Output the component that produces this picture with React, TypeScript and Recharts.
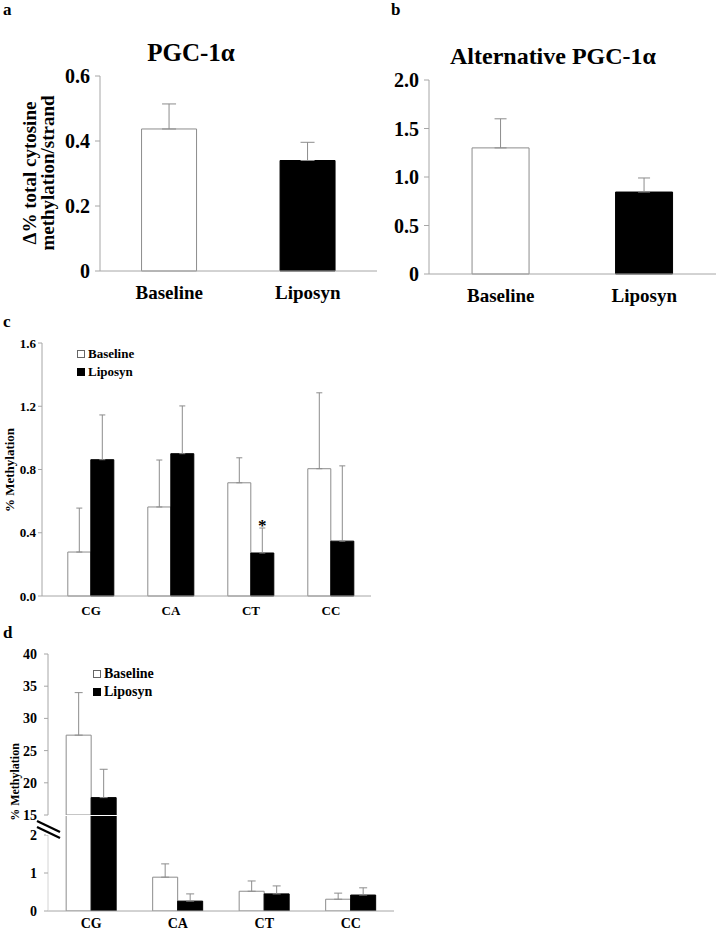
import { Bar, BarChart, Cell, ErrorBar, LabelList, Legend, XAxis, YAxis } from "recharts";

const SERIF = '"Liberation Serif", "Times New Roman", serif';
const AXIS = "#a6a6a6";
const EDGE = "#8c8c8c";

// panels a + b
const GROUPS = ["Baseline", "Liposyn"];
const PGC_MEAN = [0.437, 0.34];
const PGC_ERR = [0.077, 0.056];
const ALT_MEAN = [1.3, 0.845];
const ALT_ERR = [0.3, 0.145];
const PGC_TICKS = [0, 0.2, 0.4, 0.6];
const ALT_TICKS = [0, 0.5, 1.0, 1.5, 2.0];

// panel c
const CONTEXTS = ["CG", "CA", "CT", "CC"];
const C_BASE = [0.278, 0.563, 0.716, 0.805];
const C_BASE_ERR = [0.278, 0.297, 0.158, 0.48];
const C_LIPO = [0.862, 0.9, 0.272, 0.347];
const C_LIPO_ERR = [0.283, 0.302, 0.158, 0.476];
const C_SIG = ["", "", "*", ""];
const C_TICKS = [0, 0.4, 0.8, 1.2, 1.6];

// panel d (broken axis: 0-2 below, 15-40 above)
const D_BASE = [27.4, 0.89, 0.52, 0.31];
const D_BASE_ERR = [6.6, 0.35, 0.27, 0.16];
const D_LIPO = [17.7, 0.26, 0.45, 0.42];
const D_LIPO_ERR = [4.4, 0.19, 0.21, 0.19];
const D_HI_TICKS = [15, 20, 25, 30, 35, 40];
const D_LO_TICKS = [0, 1, 2];
const D_BREAK = 15;

const FILLS = ["#ffffff", "#000000"];

const pgcData = GROUPS.map((g, i) => ({ group: g, mean: PGC_MEAN[i], err: [0, PGC_ERR[i]] }));
const altData = GROUPS.map((g, i) => ({ group: g, mean: ALT_MEAN[i], err: [0, ALT_ERR[i]] }));
const cData = CONTEXTS.map((c, i) => ({
  ctx: c,
  base: C_BASE[i],
  baseErr: [0, C_BASE_ERR[i]],
  lipo: C_LIPO[i],
  lipoErr: [0, C_LIPO_ERR[i]],
  sig: C_SIG[i],
}));
const dHigh = CONTEXTS.map((c, i) => ({
  ctx: c,
  base: D_BASE[i] >= D_BREAK ? D_BASE[i] : null,
  baseErr: [0, D_BASE_ERR[i]],
  lipo: D_LIPO[i] >= D_BREAK ? D_LIPO[i] : null,
  lipoErr: [0, D_LIPO_ERR[i]],
}));
const dLow = CONTEXTS.map((c, i) => ({
  ctx: c,
  base: D_BASE[i],
  baseErr: [0, D_BASE[i] >= D_BREAK ? 0 : D_BASE_ERR[i]],
  lipo: D_LIPO[i],
  lipoErr: [0, D_LIPO[i] >= D_BREAK ? 0 : D_LIPO_ERR[i]],
}));

const fmtZero = (v: number) => (v === 0 ? "0" : v.toFixed(1));
const tickFont = (size: number) => ({ fill: "#000", fontFamily: SERIF, fontWeight: 700, fontSize: size });

const legendContent = (size: number) => () => (
  <div style={{ fontFamily: SERIF, fontWeight: 700, fontSize: size, lineHeight: "18px", color: "#000" }}>
    {GROUPS.map((g, i) => (
      <div key={g} style={{ display: "flex", alignItems: "center", whiteSpace: "nowrap" }}>
        <span
          style={{
            display: "inline-block",
            width: 6,
            height: 6,
            background: FILLS[i],
            border: `1px solid ${i === 0 ? "#666" : "#000"}`,
            marginRight: 3,
          }}
        />
        {g}
      </div>
    ))}
  </div>
);

const renderSig = (props: any) => {
  const { value, index } = props;
  if (!value) return null;
  const vb = props.viewBox || props;
  const { x, y, width, height } = vb;
  const perUnit = height / C_LIPO[index];
  const top = y - C_LIPO_ERR[index] * perUnit;
  return (
    <text x={x + width / 2} y={top + 3} textAnchor="middle" fontFamily={SERIF} fontWeight={700} fontSize={17} fill="#000">
      {value}
    </text>
  );
};

function TwoBar({ data, ticks, max, yWidth, marginTop, marginRight, xHeight, width, cap }: any) {
  return (
    <BarChart
      width={width}
      height={320}
      data={data}
      margin={{ top: marginTop, right: marginRight, bottom: 0, left: 0 }}
      barCategoryGap="30%"
    >
      <XAxis
        dataKey="group"
        height={xHeight}
        axisLine={{ stroke: AXIS }}
        tickLine={false}
        tickSize={0}
        tickMargin={15}
        interval={0}
        tick={tickFont(19)}
      />
      <YAxis
        domain={[0, max]}
        ticks={ticks}
        width={yWidth}
        tickFormatter={fmtZero}
        axisLine={{ stroke: AXIS }}
        tickLine={{ stroke: AXIS }}
        tickSize={5}
        tickMargin={5}
        interval={0}
        tick={tickFont(20)}
      />
      <Bar dataKey="mean" stroke={EDGE} isAnimationActive={false}>
        {data.map((_: any, i: number) => (
          <Cell key={i} fill={FILLS[i]} stroke={i === 0 ? EDGE : "#000"} />
        ))}
        <ErrorBar dataKey="err" width={cap} stroke={EDGE} strokeWidth={1} direction="y" />
      </Bar>
    </BarChart>
  );
}

export default function App() {
  return (
    <div style={{ position: "absolute", left: 0, top: 0, width: 718, height: 933, background: "#fff" }}>
      <div style={{ position: "absolute", left: 0, top: 0 }}>
        <TwoBar data={pgcData} ticks={PGC_TICKS} max={0.6} yWidth={100} marginTop={76} marginRight={3} xHeight={49} width={380} cap={7} />
      </div>
      <div style={{ position: "absolute", left: 360, top: 0 }}>
        <TwoBar data={altData} ticks={ALT_TICKS} max={2.0} yWidth={69} marginTop={80} marginRight={2} xHeight={46} width={358} cap={6} />
      </div>

      <div style={{ position: "absolute", left: 0, top: 330 }}>
        <BarChart width={380} height={290} data={cData} margin={{ top: 13, right: 9, bottom: 0, left: 0 }} barCategoryGap="21%" barGap={0}>
          <XAxis
            dataKey="ctx"
            height={24}
            padding={{ left: 9, right: 0 }}
            axisLine={{ stroke: AXIS }}
            tickLine={false}
            tickSize={0}
            tickMargin={10}
            interval={0}
            tick={tickFont(13)}
          />
          <YAxis
            domain={[0, 1.6]}
            ticks={C_TICKS}
            width={42}
            tickFormatter={(v: number) => v.toFixed(1)}
            axisLine={{ stroke: AXIS }}
            tickLine={{ stroke: AXIS }}
            tickSize={4}
            tickMargin={2}
            interval={0}
            tick={tickFont(13)}
          />
          <Legend layout="vertical" verticalAlign="middle" align="center" content={legendContent(13)} wrapperStyle={{ left: 77, top: 15, width: "auto", height: "auto" }} />
          <Bar dataKey="base" fill="#fff" stroke={EDGE} isAnimationActive={false}>
            <ErrorBar dataKey="baseErr" width={3} stroke={EDGE} strokeWidth={1} direction="y" />
          </Bar>
          <Bar dataKey="lipo" fill="#000" stroke="#000" isAnimationActive={false}>
            <ErrorBar dataKey="lipoErr" width={3} stroke={EDGE} strokeWidth={1} direction="y" />
            <LabelList dataKey="sig" content={renderSig} />
          </Bar>
        </BarChart>
      </div>

      <div style={{ position: "absolute", left: 0, top: 630 }}>
        <BarChart width={400} height={200} data={dHigh} margin={{ top: 24, right: 6, bottom: 15, left: 0 }} barCategoryGap="21%" barGap={0}>
          <XAxis dataKey="ctx" hide />
          <YAxis
            domain={[D_BREAK, 40]}
            ticks={D_HI_TICKS}
            allowDataOverflow
            width={48}
            axisLine={{ stroke: AXIS }}
            tickLine={{ stroke: AXIS }}
            tickSize={4}
            tickMargin={7}
            interval={0}
            tick={tickFont(14)}
          />
          <Legend layout="vertical" verticalAlign="middle" align="center" content={legendContent(14)} wrapperStyle={{ left: 93, top: 35, width: "auto", height: "auto" }} />
          <Bar dataKey="base" fill="#fff" stroke={EDGE} isAnimationActive={false}>
            <ErrorBar dataKey="baseErr" width={4} stroke={EDGE} strokeWidth={1} direction="y" />
          </Bar>
          <Bar dataKey="lipo" fill="#000" stroke="#000" isAnimationActive={false}>
            <ErrorBar dataKey="lipoErr" width={4} stroke={EDGE} strokeWidth={1} direction="y" />
          </Bar>
        </BarChart>
      </div>
      <div style={{ position: "absolute", left: 0, top: 800 }}>
        <BarChart width={400} height={133} data={dLow} margin={{ top: 16, right: 6, bottom: 0, left: 0 }} barCategoryGap="21%" barGap={0}>
          <XAxis
            dataKey="ctx"
            height={22}
            axisLine={{ stroke: AXIS }}
            tickLine={false}
            tickSize={0}
            tickMargin={7}
            interval={0}
            tick={tickFont(14)}
          />
          <YAxis
            domain={[0, 2.5]}
            ticks={D_LO_TICKS}
            allowDataOverflow
            width={48}
            axisLine={{ stroke: "#d4d4d4" }}
            tickLine={{ stroke: AXIS }}
            tickSize={4}
            tickMargin={7}
            interval={0}
            tick={tickFont(14)}
          />
          <Bar dataKey="base" fill="#fff" stroke={EDGE} isAnimationActive={false}>
            <ErrorBar dataKey="baseErr" width={4} stroke={EDGE} strokeWidth={1} direction="y" />
          </Bar>
          <Bar dataKey="lipo" fill="#000" stroke="#000" isAnimationActive={false}>
            <ErrorBar dataKey="lipoErr" width={4} stroke={EDGE} strokeWidth={1} direction="y" />
          </Bar>
        </BarChart>
      </div>

      <svg width={718} height={933} style={{ position: "absolute", left: 0, top: 0, pointerEvents: "none" }}>
        <g fontFamily={SERIF} fontWeight={700} fill="#000">
          <text x={3} y={15} fontSize={17}>a</text>
          <text x={391} y={15} fontSize={17}>b</text>
          <text x={3} y={327} fontSize={17}>c</text>
          <text x={3} y={638} fontSize={17}>d</text>
          <text x={191} y={61} fontSize={25} textAnchor="middle">PGC-1α</text>
          <text x={553} y={64} fontSize={24} textAnchor="middle">Alternative PGC-1α</text>
          <text transform="translate(36,173) rotate(-90)" fontSize={19} textAnchor="middle">Δ% total cytosine</text>
          <text transform="translate(54,173) rotate(-90)" fontSize={19} textAnchor="middle">methylation/strand</text>
          <text transform="translate(14,470) rotate(-90)" fontSize={13} textAnchor="middle">% Methylation</text>
          <text transform="translate(19,782) rotate(-90)" fontSize={12} textAnchor="middle">% Methylation</text>
        </g>
        <rect x={46} y={816} width={4} height={19} fill="#fff" />
        <line x1={37} y1={821} x2={60} y2={832} stroke="#000" strokeWidth={2.2} />
        <line x1={37} y1={827} x2={60} y2={838} stroke="#000" strokeWidth={2.2} />
      </svg>
    </div>
  );
}
